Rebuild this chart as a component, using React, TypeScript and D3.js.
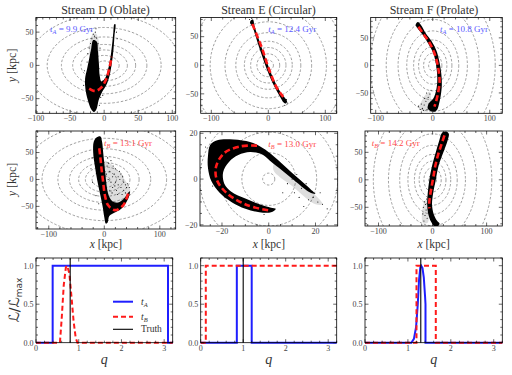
import * as d3 from 'd3';

type Pt = [number, number];

// ---------- values ----------
const titles = ['Stream D (Oblate)', 'Stream E (Circular)', 'Stream F (Prolate)'];
const ageA = ['9.9', '12.4', '10.8'];
const ageB = ['13.1', '13.0', '14.2'];
const qTruth = [0.8, 1.0, 1.3];

// dashed potential contours: equivalent radius (kpc) and x / y stretch per stream
const ringR = [9, 20, 31, 42, 57, 76, 102, 137];
const ringRZoom = [2.6, 11.5, 20.5, 29.5, 38];
const ringStretch: Pt[] = [[1.1, 0.75], [1, 1], [0.8, 1.1]];

// dense part of each particle cloud (outline, kpc)
const cloudD_A: Pt[] = [[-16, 38], [-11, 36], [-9, 20], [-7.5, 0], [-6.5, -15], [-4, -24], [2, -18], [6, -5], [9, 10], [11.5, 30], [13.5, 50], [15, 62], [16.5, 62], [15.2, 45], [13.8, 25], [11.5, 5], [8, -15], [3, -30], [-3, -40], [-8, -52], [-11, -65], [-15, -70], [-19, -66], [-24, -52], [-27.5, -35], [-28, -20], [-25, -5], [-22, 10], [-19, 25]];
const cloudE_A: Pt[] = [[-31, 78], [-27, 80], [-24, 68], [-19, 52], [-12, 32], [-4, 10], [4, -12], [13, -32], [22, -48], [30, -58], [33, -63], [31, -67], [27, -65], [20, -54], [11, -38], [1, -16], [-7, 5], [-15, 28], [-22, 50], [-28, 68], [-32, 74]];
const cloudF_A: Pt[] = [[-30, 74], [-26, 79], [-21, 74], [-12, 58], [-2, 44], [6, 28], [11, 10], [15, -15], [16, -35], [14, -55], [11, -70], [8, -80], [3, -84], [-4, -83], [-9, -78], [-6, -68], [1, -60], [6, -45], [8, -25], [6, 0], [1, 22], [-8, 40], [-18, 56], [-27, 68]];
const cloudD_B: Pt[] = [[-14, 78], [-7, 80], [-4, 70], [-2, 50], [0, 30], [2, 10], [4, -10], [8, -30], [14, -40], [25, -43], [35, -36], [42, -26], [46, -22], [45, -30], [40, -42], [30, -55], [18, -62], [9, -68], [6, -80], [3, -82], [0, -70], [-3, -50], [-8, -25], [-13, 0], [-17, 25], [-20, 50], [-19, 70]];
const cloudE_B: Pt[] = [[-26, 10], [-25, 15], [-22, 17], [-15, 17.3], [-8, 16.2], [-4, 14.5], [1, 11], [7, 5.5], [13, 0], [18, -4.5], [20, -6.5], [17.5, -5.8], [12, -1.5], [6, 3.5], [0.5, 8], [-3, 10.8], [-8, 11.8], [-13, 10.5], [-17, 7.5], [-19.5, 3], [-19, -2], [-16, -5.5], [-10, -8.5], [-4, -11], [1, -12.5], [3, -13], [1, -14.5], [-4, -14.5], [-10, -13], [-16, -10], [-21, -6], [-24.5, -1], [-26, 5]];
const cloudF_B: Pt[] = [[18, 86], [25, 88], [30, 84], [28, 72], [20, 50], [11, 25], [6, 0], [1, -25], [-1, -45], [2, -62], [8, -74], [13, -80], [10, -84], [3, -84], [-3, -76], [-8, -62], [-10, -45], [-9, -25], [-6, 0], [-1, 25], [6, 50], [12, 70]];

// sparse halo around the clouds (outline, kpc)
const hazeD_A: Pt[] = [[-22, 25], [-18, 45], [-12, 48], [-7, 30], [-9, 15], [-20, 10]];
const hazeE_A: Pt[] = [];
const hazeF_A: Pt[] = [[-5, -48], [-3, -60], [-5, -80], [-15, -84], [-24, -78], [-18, -62], [-10, -50]];
const hazeD_B: Pt[] = [[0, 35], [10, 30], [25, 15], [40, -5], [47, -20], [40, -40], [20, -45], [8, -35], [2, 0]];
const hazeE_B: Pt[] = [[3, 8], [10, 2.5], [18, -5], [23, -11], [20, -11], [10, -3], [2, 4]];
const hazeF_B: Pt[] = [[-9, -35], [-7, -60], [-9, -78], [-18, -78], [-19, -55], [-14, -38]];

// isolated particles
const dotsD_A: Pt[] = [[-14, 44], [-18, 40], [-11, 41], [-13, 50], [-20, 33], [-9, 33], [-16, 47], [-22, 26], [-24, 18], [-6, 26], [-12, 55], [-19, 52], [-29, -8], [-30, -30], [-5, -48], [-2, -45], [-7, -60], [-25, 5], [18, 50], [19, 40]];
const dotsE_A: Pt[] = [[-33, 80], [-29, 82], [34, -66], [29, -70], [32, -60]];
const dotsF_A: Pt[] = [[-12, -65], [-15, -72], [-8, -58], [-18, -78], [-10, -80], [-20, -70], [-5, -52], [-14, -60], [-22, -80], [-16, -82], [-7, -70], [-11, -50], [-3, -45], [-25, -74]];
const dotsD_B: Pt[] = [[5, 25], [10, 15], [15, 5], [20, -5], [25, -10], [30, -15], [35, -20], [12, -5], [18, 10], [28, 0], [38, -10], [8, 30], [22, -20], [32, -28], [40, -15], [15, -15], [25, 5], [10, -20], [4, 10], [6, 40], [20, 20], [30, 10], [35, -5], [42, -8], [16, 25], [24, -28], [12, 35], [-22, 40], [-24, 20], [-21, -5], [-15, -30], [-10, -45], [45, -15], [27, 15], [33, 5], [14, -25], [7, 0], [19, -12], [38, -25]];
const dotsE_B: Pt[] = [[10, 0], [14, -4], [16, -2], [19, -8], [21, -10], [12, 2], [23, -11], [17, -9], [8, -2], [6, -6], [13, -8], [22, -6], [15, -12], [-27, 14], [-27, 18], [-24, -3], [-2, -15.5], [25, -13], [11, -6]];
const dotsF_B: Pt[] = [[-15, -40], [-17, -50], [-12, -55], [-14, -65], [-10, -70], [-16, -75], [-8, -60], [-13, -45], [-11, -35], [-18, -62]];

// red dashed best-fit tracks (kpc)
const trackD_A: Pt[] = [[-22, -35], [-16, -38], [-11, -38], [-4, -33], [2.5, -22], [7, -7], [11, 13]];
const trackE_A: Pt[] = [[-28, 72], [-19, 50], [-10, 27], [-3, 5], [5, -17], [13, -36], [22, -50], [30, -60]];
const trackF_A: Pt[] = [[-25, 70], [-15, 55], [-5, 40], [3, 22], [8, 4], [11, -15], [12, -30], [9, -52], [6, -65], [3, -75]];
const trackD_B: Pt[] = [[-9, 58], [-7, 40], [-5, 20], [-2, -5], [1, -29], [7, -48], [19, -57], [34, -48], [43, -26]];
const trackE_B: Pt[] = [[-5, 14.6], [-12, 14.3], [-19, 11.4], [-22.5, 5.5], [-22.2, -0.3], [-18, -6.1], [-9.4, -11.3], [0.6, -13.8]];
const trackF_B: Pt[] = [[22, 81], [16, 63], [10, 45], [5, 25], [2, 8], [-1, -8], [-4, -25], [-6, -40], [-6, -52]];

// normalised likelihood L/Lmax against q
const likeD_A: Pt[] = [[0, 0], [0.39, 0], [0.39, 1], [3.09, 1], [3.09, 0], [3.2, 0]];
const likeD_B: Pt[] = [[0, 0], [0.56, 0], [0.6, 0.3], [0.65, 0.75], [0.7, 0.98], [0.73, 1], [0.78, 0.9], [0.83, 0.6], [0.88, 0.28], [0.93, 0.06], [0.97, 0], [3.2, 0]];
const likeE_A: Pt[] = [[0, 0], [0.85, 0], [0.85, 1], [1.2, 1], [1.2, 0], [3.2, 0]];
const likeE_B: Pt[] = [[0, 0], [0.12, 0], [0.12, 1], [3.2, 1]];
const likeF_A: Pt[] = [[0, 0], [1.08, 0], [1.14, 0.05], [1.19, 0.2], [1.23, 0.5], [1.26, 0.82], [1.29, 0.98], [1.31, 1], [1.34, 0.97], [1.37, 0.85], [1.4, 0.6], [1.41, 0.5], [1.41, 0], [3.2, 0]];
const likeF_B: Pt[] = [[0, 0], [1.2, 0], [1.2, 1], [1.65, 1], [1.65, 0], [3.2, 0]];

const legendLabels = ['A', 'B', 'Truth'];

// ---------- layout ----------
const FONT = '"Liberation Serif", "DejaVu Serif", serif';
const BLUE = '#1f1fff';
const RED = '#ff1a1a';
const BLUE_TXT = '#5a5aff';
const RED_TXT = '#ff4a4a';

interface Box {
  x0: number; x1: number; y0: number; y1: number;
  xd: [number, number]; yd: [number, number];
  xt: number[]; xm: number; yt: number[]; ym: number;
}

const rowA: Box[] = [
  { x0: 36, x1: 175.7, y0: 17.5, y1: 113.3, xd: [-100, 105], yd: [-72, 72], xt: [-100, -50, 0, 50, 100], xm: 10, yt: [-50, 0, 50], ym: 10 },
  { x0: 200.7, x1: 336.7, y0: 17.5, y1: 113.3, xd: [-118.6, 120], yd: [-84, 83.5], xt: [-100, 0, 100], xm: 20, yt: [-50, 0, 50], ym: 10 },
  { x0: 370.7, x1: 502.3, y0: 17.5, y1: 113.3, xd: [-108.8, 122], yd: [-87, 87], xt: [-100, 0, 100], xm: 20, yt: [-50, 0, 50], ym: 10 },
];
const rowB: Box[] = [
  { x0: 36, x1: 175.7, y0: 131, y1: 229, xd: [-123, 128.6], yd: [-92, 90], xt: [-100, 0, 100], xm: 20, yt: [-50, 0, 50], ym: 10 },
  { x0: 200, x1: 337.7, y0: 131.7, y1: 226, xd: [-29.4, 29.5], yd: [-20.5, 20.7], xt: [-20, 0, 20], xm: 5, yt: [-20, 0, 20], ym: 5 },
  { x0: 365, x1: 502.3, y0: 131, y1: 226, xd: [-125, 129], yd: [-84, 88.8], xt: [-100, 0, 100], xm: 20, yt: [-50, 0, 50], ym: 10 },
];
const rowC: Box[] = [36, 200.7, 365].map((x0, i) => ({
  x0, x1: [172.7, 336.7, 502.3][i], y0: 258, y1: 342.7, xd: [0, 3.2] as [number, number], yd: [0, 1.1] as [number, number],
  xt: [0, 1, 2, 3], xm: 0.2, yt: [0, 0.5, 1], ym: 0.1,
}));

function minors(d: [number, number], step: number, major: number[]) {
  const out: number[] = [];
  for (let v = Math.ceil(d[0] / step - 1e-9) * step; v <= d[1] + 1e-9; v += step) {
    if (!major.some(m => Math.abs(m - v) < step / 10)) out.push(v);
  }
  return out;
}

function Frame({ b, xf, yf }: { b: Box; xf: (v: number) => string; yf: (v: number) => string }) {
  const x = d3.scaleLinear().domain(b.xd).range([b.x0, b.x1]);
  const y = d3.scaleLinear().domain(b.yd).range([b.y1, b.y0]);
  const xt = b.xt.filter(v => v >= b.xd[0] - 1e-9 && v <= b.xd[1] + 1e-9);
  const yt = b.yt.filter(v => v >= b.yd[0] - 1e-9 && v <= b.yd[1] + 1e-9);
  const ticks: JSX.Element[] = [];
  const add = (vals: number[], len: number, key: string) => {
    vals.forEach((v, i) => {
      const px = x(v);
      ticks.push(<line key={`${key}b${i}`} x1={px} x2={px} y1={b.y1} y2={b.y1 - len} />);
      ticks.push(<line key={`${key}t${i}`} x1={px} x2={px} y1={b.y0} y2={b.y0 + len} />);
    });
  };
  const addY = (vals: number[], len: number, key: string) => {
    vals.forEach((v, i) => {
      const py = y(v);
      ticks.push(<line key={`${key}l${i}`} x1={b.x0} x2={b.x0 + len} y1={py} y2={py} />);
      ticks.push(<line key={`${key}r${i}`} x1={b.x1} x2={b.x1 - len} y1={py} y2={py} />);
    });
  };
  add(xt, 3.5, 'X');
  add(minors(b.xd, b.xm, b.xt), 2, 'x');
  addY(yt, 3.5, 'Y');
  addY(minors(b.yd, b.ym, b.yt), 2, 'y');
  return (
    <g>
      <g stroke="#000" strokeWidth={0.6}>{ticks}</g>
      <rect x={b.x0} y={b.y0} width={b.x1 - b.x0} height={b.y1 - b.y0} fill="none" stroke="#000" strokeWidth={0.8} />
      <g fontFamily={FONT} fontSize={8} fill="#444">
        {xt.map(v => (
          <text key={`lx${v}`} x={x(v)} y={b.y1 + 8} textAnchor="middle">{xf(v)}</text>
        ))}
        {yt.map(v => (
          <text key={`ly${v}`} x={b.x0 - 2.5} y={y(v) + 2.8} textAnchor="end">{yf(v)}</text>
        ))}
      </g>
    </g>
  );
}

const fmtInt = d3.format('d');
const fmtOne = d3.format('.1f');

function StreamPanel({ b, id, col, rings, cloud, haze, dots, track, sub, age, color }: {
  b: Box; id: string; col: number; rings: number[]; cloud: Pt[]; haze: Pt[]; dots: Pt[]; track: Pt[];
  sub: string; age: string; color: string;
}) {
  const x = d3.scaleLinear().domain(b.xd).range([b.x0, b.x1]);
  const y = d3.scaleLinear().domain(b.yd).range([b.y1, b.y0]);
  const closed = d3.line<Pt>().x(d => x(d[0])).y(d => y(d[1])).curve(d3.curveCatmullRomClosed.alpha(0.5));
  const open = d3.line<Pt>().x(d => x(d[0])).y(d => y(d[1])).curve(d3.curveCatmullRom.alpha(0.5));
  const [sx, sy] = ringStretch[col];
  const annX = [50, 268.3, 440, 104, 268.3, 371.7];
  return (
    <g>
      <clipPath id={id}>
        <rect x={b.x0} y={b.y0} width={b.x1 - b.x0} height={b.y1 - b.y0} />
      </clipPath>
      <g clipPath={`url(#${id})`}>
        <g fill="none" stroke="#777" strokeWidth={0.7} strokeDasharray="2.5,1.8">
          {rings.map(r => (
            <ellipse key={r} cx={x(0)} cy={y(0)} rx={x(r * sx) - x(0)} ry={y(0) - y(r * sy)} />
          ))}
        </g>
        {haze.length > 0 && <path d={closed(haze) ?? ''} fill="#000" fillOpacity={0.13} />}
        <path d={closed(cloud) ?? ''} fill="#000" />
        {dots.map((d, i) => (
          <circle key={i} cx={x(d[0])} cy={y(d[1])} r={0.55} fill="#000" />
        ))}
        <path d={open(track) ?? ''} fill="none" stroke={RED} strokeWidth={2.6} strokeDasharray="6,3.2" />
      </g>
      <text x={annX[sub === 'A' ? col : col + 3]} y={b.y0 + (sub === 'A' ? 14.5 : 15)} fontFamily={FONT} fontSize={9} fill={color}>
        <tspan fontStyle="italic">t</tspan>
        <tspan fontStyle="italic" fontSize={6.3} dy={1.8}>{sub}</tspan>
        <tspan dy={-1.8}>{` = ${age} Gyr`}</tspan>
      </text>
      <Frame b={b} xf={fmtInt} yf={fmtInt} />
    </g>
  );
}

function LikePanel({ b, a, bb, truth, legend }: { b: Box; a: Pt[]; bb: Pt[]; truth: number; legend: boolean }) {
  const x = d3.scaleLinear().domain(b.xd).range([b.x0, b.x1]);
  const y = d3.scaleLinear().domain(b.yd).range([b.y1, b.y0]);
  const line = d3.line<Pt>().x(d => x(d[0])).y(d => y(d[1]));
  const lx = b.x0 + 77;
  const ly = [301.7, 316.7, 329.3];
  return (
    <g>
      <path d={line(a) ?? ''} fill="none" stroke={BLUE} strokeWidth={2} />
      <path d={line(bb) ?? ''} fill="none" stroke={RED} strokeWidth={2} strokeDasharray="5,3" />
      <line x1={x(truth)} x2={x(truth)} y1={b.y0} y2={b.y1} stroke="#000" strokeWidth={1.1} />
      {legend && (
        <g fontFamily={FONT} fontSize={9.5} fill="#333">
          <line x1={lx} x2={lx + 20} y1={ly[0]} y2={ly[0]} stroke={BLUE} strokeWidth={2} />
          <line x1={lx} x2={lx + 20} y1={ly[1]} y2={ly[1]} stroke={RED} strokeWidth={2} strokeDasharray="5,3" />
          <line x1={lx} x2={lx + 20} y1={ly[2]} y2={ly[2]} stroke="#000" strokeWidth={1.1} />
          {legendLabels.map((t, i) =>
            i < 2 ? (
              <text key={t} x={lx + 28} y={ly[i] + 3}>
                <tspan fontStyle="italic">t</tspan>
                <tspan fontStyle="italic" fontSize={6.5} dy={1.8}>{t}</tspan>
              </text>
            ) : (
              <text key={t} x={lx + 28} y={ly[i] + 3}>{t}</text>
            )
          )}
        </g>
      )}
      <Frame b={b} xf={fmtInt} yf={fmtOne} />
    </g>
  );
}

export default function App() {
  const cloudsA = [cloudD_A, cloudE_A, cloudF_A];
  const cloudsB = [cloudD_B, cloudE_B, cloudF_B];
  const hazeA = [hazeD_A, hazeE_A, hazeF_A];
  const hazeB = [hazeD_B, hazeE_B, hazeF_B];
  const dotsA = [dotsD_A, dotsE_A, dotsF_A];
  const dotsB = [dotsD_B, dotsE_B, dotsF_B];
  const tracksA = [trackD_A, trackE_A, trackF_A];
  const tracksB = [trackD_B, trackE_B, trackF_B];
  const likeA = [likeD_A, likeE_A, likeF_A];
  const likeB = [likeD_B, likeE_B, likeF_B];
  const titleX = [105.5, 268.5, 434];
  const colC = rowC.map(b => (b.x0 + b.x1) / 2);

  return (
    <svg width={512} height={375} style={{ position: 'fixed', left: 0, top: 0, background: '#fff' }}>
      {titles.map((t, i) => (
        <text key={t} x={titleX[i]} y={13.5} textAnchor="middle" fontFamily={FONT} fontSize={12} fill="#333">{t}</text>
      ))}
      {rowA.map((b, i) => (
        <StreamPanel key={`a${i}`} b={b} id={`ca${i}`} col={i} rings={ringR} cloud={cloudsA[i]} haze={hazeA[i]}
          dots={dotsA[i]} track={tracksA[i]} sub="A" age={ageA[i]} color={BLUE_TXT} />
      ))}
      {rowB.map((b, i) => (
        <StreamPanel key={`b${i}`} b={b} id={`cb${i}`} col={i} rings={i === 1 ? ringRZoom : ringR} cloud={cloudsB[i]}
          haze={hazeB[i]} dots={dotsB[i]} track={tracksB[i]} sub="B" age={ageB[i]} color={RED_TXT} />
      ))}
      {rowC.map((b, i) => (
        <LikePanel key={`c${i}`} b={b} a={likeA[i]} bb={likeB[i]} truth={qTruth[i]} legend={i === 0} />
      ))}

      <g fontFamily={FONT} fontSize={12} fill="#333">
        {[65.4, 179.5].map(cy => (
          <text key={cy} transform={`translate(16,${cy}) rotate(-90)`} textAnchor="middle">
            <tspan fontStyle="italic">y</tspan> [kpc]
          </text>
        ))}
        {rowB.map((b, i) => (
          <text key={i} x={(b.x0 + b.x1) / 2} y={247.5} textAnchor="middle" fontSize={11.5}>
            <tspan fontStyle="italic">x</tspan> [kpc]
          </text>
        ))}
        {colC.map((cx, i) => (
          <text key={`q${i}`} x={cx} y={364} textAnchor="middle" fontSize={14} fontStyle="italic">q</text>
        ))}
        <text transform="translate(19,300) rotate(-90)" textAnchor="middle" fontSize={14} fontFamily='"DejaVu Sans", sans-serif'>
          ℒ/ℒ<tspan fontSize={9} dy={2.5}>max</tspan>
        </text>
      </g>
    </svg>
  );
}
